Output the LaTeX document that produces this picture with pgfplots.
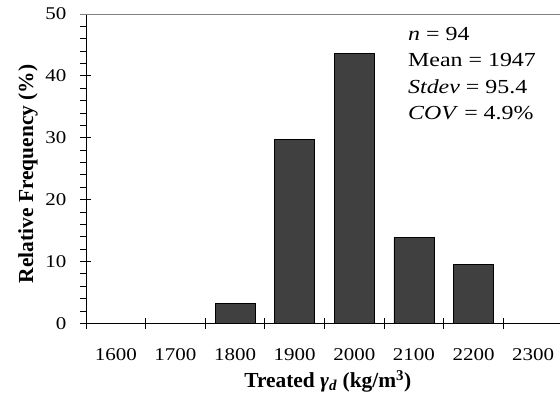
\documentclass[border=0pt]{standalone}
\usepackage{pgfplots}
\pgfplotsset{compat=1.18}
\usepackage{fontspec}
\setmainfont{Liberation Serif}
\newfontfamily\tickfont[FakeStretch=1.17]{Liberation Serif}
\newfontfamily\annfont[FakeStretch=1.2]{Liberation Serif}
\definecolor{barfill}{HTML}{404040}
\begin{document}
\begin{tikzpicture}
\begin{axis}[
  scale only axis,
  width=477bp, height=309.3bp,
  xmin=1550, xmax=2350, ymin=0, ymax=50,
  enlargelimits=false,
  axis x line*=bottom, axis y line*=left,
  axis line style={-, black, line width=0.8bp},
  xtick={1550,1650,...,2350},
  xticklabels={1600,1700,1800,1900,2000,2100,2200,2300},
  x tick label as interval,
  ytick={0,10,...,50},
  tick align=center,
  major tick length=11bp,
  tick style={black, line width=0.8bp},
  /pgf/number format/assume math mode=true,
  ticklabel style={font=\tickfont\fontsize{18}{20}\selectfont},
  xticklabel style={inner sep=0pt, anchor=north, yshift=-20bp},
  yticklabel style={inner sep=0pt, anchor=east, xshift=-14bp},
  xlabel={\textbf{Treated \textit{γ}\textsubscript{\textit{d}} (kg/m\textsuperscript{3})}},
  xlabel style={font=\fontsize{21.5}{24}\selectfont, at={(axis description cs:0.507,-0.2082)}, anchor=base, inner sep=0pt},
  ylabel={\textbf{Relative Frequency (\%)}},
  ylabel style={font=\fontsize{21.5}{24}\selectfont, at={(axis description cs:-0.1111,0.483)}, anchor=base, rotate=0, inner sep=0pt},
  clip=false,
]
\addplot[ybar, bar width=40bp, fill=barfill, draw=black, line width=0.6bp] coordinates {
  (1800,3.19) (1900,29.79) (2000,43.62) (2100,13.83) (2200,9.57)
};
\pgfplotsinvokeforeach{2,4,6,8,12,14,16,18,22,24,26,28,32,34,36,38,42,44,46,48}{
  \draw[black, line width=0.8bp] (axis cs:1550,#1) -- ([xshift=-5.5bp]axis cs:1550,#1);
}
\draw[gray, line width=0.8bp] ([xshift=-5.5bp]rel axis cs:0,1) -- (rel axis cs:1,1);
\node[anchor=base west, inner sep=0pt, font=\annfont\fontsize{20}{22}\selectfont] at (axis cs:2090,45.67) {\textit{n} = 94};
\node[anchor=base west, inner sep=0pt, font=\annfont\fontsize{20}{22}\selectfont] at (axis cs:2090,41.5) {Mean = 1947};
\node[anchor=base west, inner sep=0pt, font=\annfont\fontsize{20}{22}\selectfont] at (axis cs:2090,37.1) {\textit{Stdev} = 95.4};
\node[anchor=base west, inner sep=0pt, font=\annfont\fontsize{20}{22}\selectfont] at (axis cs:2090,32.9) {\textit{COV} = 4.9\%};
\end{axis}
\pgfresetboundingbox
\path ([xshift=-86bp,yshift=-74.7bp]current axis.south west) rectangle ([xshift=474bp,yshift=323.3bp]current axis.south west);
\end{tikzpicture}
\end{document}
